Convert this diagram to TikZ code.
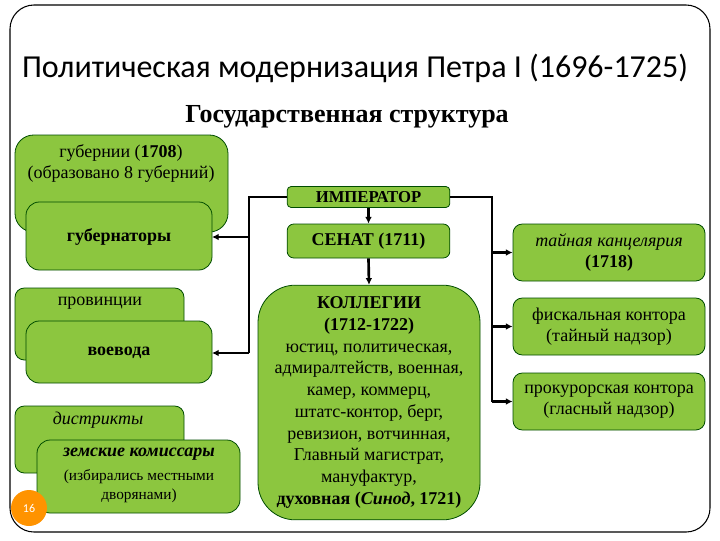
\documentclass[tikz,border=0pt]{standalone}
\usepackage{fontspec}
\setmainfont{Liberation Serif}
\newfontfamily\titlefont{Carlito}
\usetikzlibrary{arrows.meta}
\begin{document}
\begin{tikzpicture}[x=0.75pt,y=-0.75pt,
  gbox/.style={draw=black!70!green,fill=boxgreen,line width=0.6pt,rounded corners=7pt},
  conn/.style={line width=2pt},
  arr/.style={line width=2pt,-{Latex[length=5pt,width=5pt]}},
  txt/.style={font=\fontsize{13.5}{16}\selectfont,align=center}]
\definecolor{boxgreen}{HTML}{8CC63F}
\useasboundingbox (0,0) rectangle (720,540);
\fill[white] (0,0) rectangle (720,540);
\draw[line width=0.8pt,rounded corners=18pt] (10,5) rectangle (710,532);
\node[font=\titlefont\fontsize{24}{28}\selectfont] (title) at (355,68) {Политическая модернизация Петра I (1696-1725)};
\node[font=\bfseries\fontsize{19.5}{22}\selectfont] (sub) at (347,117) {Государственная структура};
% left
\draw[gbox,rounded corners=14pt] (15,135) rectangle (228,232);
\node[txt,anchor=north] (gub) at (121,140) {губернии (\textbf{1708})\\(образовано 8 губерний)};
\draw[gbox,rounded corners=10pt] (26,202) rectangle (212,270);
\node[txt,font=\bfseries\fontsize{13.5}{16}\selectfont] (gubr) at (119,237) {губернаторы};
\draw[gbox] (15,288) rectangle (184,360);
\node[txt,anchor=north] (prov) at (100,292) {провинции};
\draw[gbox,rounded corners=10pt] (26,321) rectangle (212,383);
\node[txt,font=\bfseries\fontsize{13.5}{16}\selectfont] (voev) at (119,353) {воевода};
\draw[gbox] (15,406) rectangle (184,473);
\node[txt,anchor=north,font=\itshape\fontsize{13.5}{16}\selectfont] (distr) at (98,407) {дистрикты};
\draw[gbox,rounded corners=10pt] (37,440) rectangle (240,513);
\node[txt,anchor=north] (zem) at (139,443) {\textbf{\textit{земские комиссары}}};
\node[align=center,anchor=north,font=\fontsize{11.5}{14}\selectfont] (zem2) at (139,465) {(избирались местными\\дворянами)};
\fill[orange!85!yellow] (29,508) circle (18);
\node[white,font=\titlefont\fontsize{9}{10}\selectfont] (num) at (29,508) {16};
% center
\node[gbox,minimum width=122pt,minimum height=15.75pt,rounded corners=3pt,font=\bfseries\fontsize{12.5}{14}\selectfont,inner sep=1pt] (imp) at (368.5,197) {ИМПЕРАТОР};
\node[gbox,minimum width=122pt,minimum height=25.5pt,rounded corners=5pt,font=\bfseries\fontsize{13.5}{16}\selectfont] (sen) at (368.5,241) {СЕНАТ (1711)};
\node[gbox,minimum width=166.5pt,minimum height=176pt,rounded corners=28pt,align=center,font=\fontsize{13.5}{16.3}\selectfont,inner sep=1pt] (kol) at (369,402.5) {\textbf{КОЛЛЕГИИ}\\\textbf{(1712-1722)}\\юстиц, политическая,\\адмиралтейств, военная,\\камер, коммерц,\\штатс-контор, берг,\\ревизион, вотчинная,\\Главный магистрат,\\мануфактур,\\\textbf{духовная (\textit{Синод}, 1721)}};
% right
\node[gbox,minimum width=144pt,minimum height=42.75pt,txt] (tai) at (609,252.5) {\textit{тайная канцелярия}\\\textbf{(1718)}};
\node[gbox,minimum width=144pt,minimum height=42.75pt,txt,inner sep=1pt] (fis) at (609,326.5) {фискальная контора\\(тайный надзор)};
\node[gbox,minimum width=144pt,minimum height=42.75pt,txt,inner sep=1pt] (pro) at (609,401.5) {прокурорская контора\\(гласный надзор)};
% connectors
\coordinate (L1) at (249,197);\coordinate (L2) at (249,353);
\coordinate (R1) at (492,197);\coordinate (R2) at (492,401.5);
\coordinate (G) at (212,237);\coordinate (V) at (212,353);
\draw[conn] (imp.west) -- (L1) -- (L2);
\draw[arr] (249,237) -- (G);
\draw[arr] (L2) -- (V);
\draw[conn] (imp.east) -- (R1) -- (R2);
\draw[arr] (R1 |- tai) -- (tai.west);
\draw[arr] (R1 |- fis) -- (fis.west);
\draw[arr] (R2) -- (pro.west);
\draw[arr] (imp.south) -- (sen.north);
\draw[arr] (sen.south) -- (kol.north);
\end{tikzpicture}
\end{document}
